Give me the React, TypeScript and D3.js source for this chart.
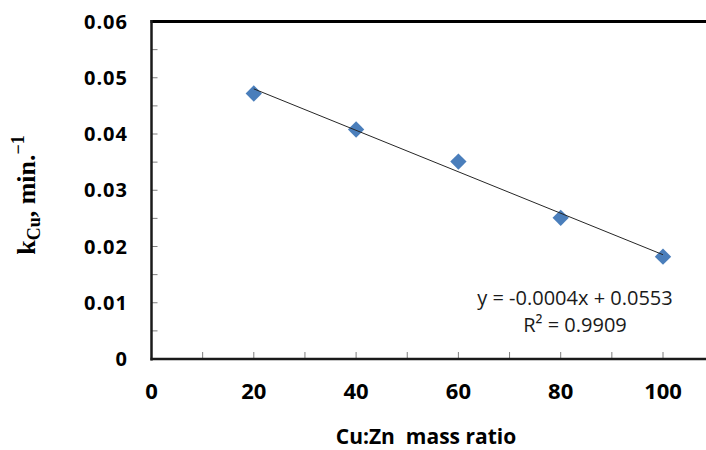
import React from "react";
import * as d3 from "d3";

const massRatio = [20, 40, 60, 80, 100];
const kCu = [0.0472, 0.0408, 0.0351, 0.0251, 0.0182];
const yTicks = [0, 0.01, 0.02, 0.03, 0.04, 0.05, 0.06];
const xTicks = [0, 20, 40, 60, 80, 100];
const equationText = "y = -0.0004x + 0.0553";
const r2Text = "R² = 0.9909";

const W = 706;
const H = 450;

export default function App() {
  const x = d3.scaleLinear().domain([0, 100]).range([151.5, 663]);
  const y = d3.scaleLinear().domain([0, 0.06]).range([359, 21.5]);

  // least-squares trendline
  const mx = d3.mean(massRatio)!;
  const my = d3.mean(kCu)!;
  const slope =
    d3.sum(massRatio.map((v, i) => (v - mx) * (kCu[i] - my))) /
    d3.sum(massRatio.map((v) => (v - mx) * (v - mx)));
  const intercept = my - slope * mx;
  const x0 = d3.min(massRatio)!;
  const x1 = d3.max(massRatio)!;

  const minorY = d3.range(0, 0.0601, 0.005);
  const minorX = d3.range(0, 111, 10);
  const diamond = d3.symbol().type(d3.symbolDiamond2).size(170)()!;

  const tickFont = "'Open Sans', sans-serif";

  return (
    <svg
      width={W}
      height={H}
      style={{ position: "absolute", left: 0, top: 0, background: "#fff" }}
    >
      {minorY.map((v, i) => (
        <line
          key={"yt" + i}
          x1={x(0)}
          x2={x(0) + 6}
          y1={y(v)}
          y2={y(v)}
          stroke="#7f7f7f"
          strokeWidth={1}
        />
      ))}
      {minorX.map((v, i) => (
        <line
          key={"xt" + i}
          x1={x(v)}
          x2={x(v)}
          y1={y(0)}
          y2={y(0) - 7}
          stroke="#7f7f7f"
          strokeWidth={1}
        />
      ))}
      <line x1={x(0) - 1} x2={W} y1={y(0.06)} y2={y(0.06)} stroke="#000" strokeWidth={3} />
      <line x1={x(0)} x2={x(0)} y1={y(0.06) - 1.5} y2={y(0) + 1.5} stroke="#1a1a1a" strokeWidth={2.5} />
      <line x1={x(0) - 1} x2={W} y1={y(0)} y2={y(0)} stroke="#1a1a1a" strokeWidth={2.5} />

      {yTicks.map((v) => (
        <text
          key={"yl" + v}
          x={128}
          y={y(v)}
          dy="0.36em"
          textAnchor="end"
          fontFamily={tickFont}
          fontWeight={700}
          fontSize={20}
          letterSpacing={1}
          fill="#000"
        >
          {v === 0 ? "0" : d3.format(".2f")(v)}
        </text>
      ))}
      {xTicks.map((v) => (
        <text
          key={"xl" + v}
          x={x(v)}
          y={399}
          textAnchor="middle"
          fontFamily={tickFont}
          fontWeight={700}
          fontSize={22}
          fill="#000"
        >
          {v}
        </text>
      ))}

      {massRatio.map((v, i) => (
        <path
          key={"m" + i}
          d={diamond}
          transform={`translate(${x(v)},${y(kCu[i])})`}
          fill="#4a7ebb"
        />
      ))}
      <line
        x1={x(x0)}
        y1={y(intercept + slope * x0)}
        x2={x(x1)}
        y2={y(intercept + slope * x1)}
        stroke="#262626"
        strokeWidth={1}
      />

      <text
        x={575}
        y={305}
        textAnchor="middle"
        fontFamily={tickFont}
        fontSize={20}
        fill="#1a1a1a"
      >
        {equationText}
      </text>
      <text
        x={575}
        y={332}
        textAnchor="middle"
        fontFamily={tickFont}
        fontSize={20}
        fill="#1a1a1a"
      >
        {r2Text}
      </text>

      <text
        x={426}
        y={444}
        textAnchor="middle"
        fontFamily={tickFont}
        fontWeight={700}
        fontSize={21}
        fill="#000"
        style={{ whiteSpace: "pre" }}
      >
        {"Cu:Zn  mass ratio"}
      </text>

      <text
        transform="translate(35,195) rotate(-90)"
        textAnchor="middle"
        fontFamily="'Liberation Serif', 'Times New Roman', serif"
        fontWeight={700}
        fontSize={26}
        fill="#000"
      >
        k
        <tspan fontSize={18} dy={5}>Cu</tspan>
        <tspan dy={-5}>, min.</tspan>
        <tspan fontSize={18} dy={-11}>−1</tspan>
      </text>
    </svg>
  );
}
